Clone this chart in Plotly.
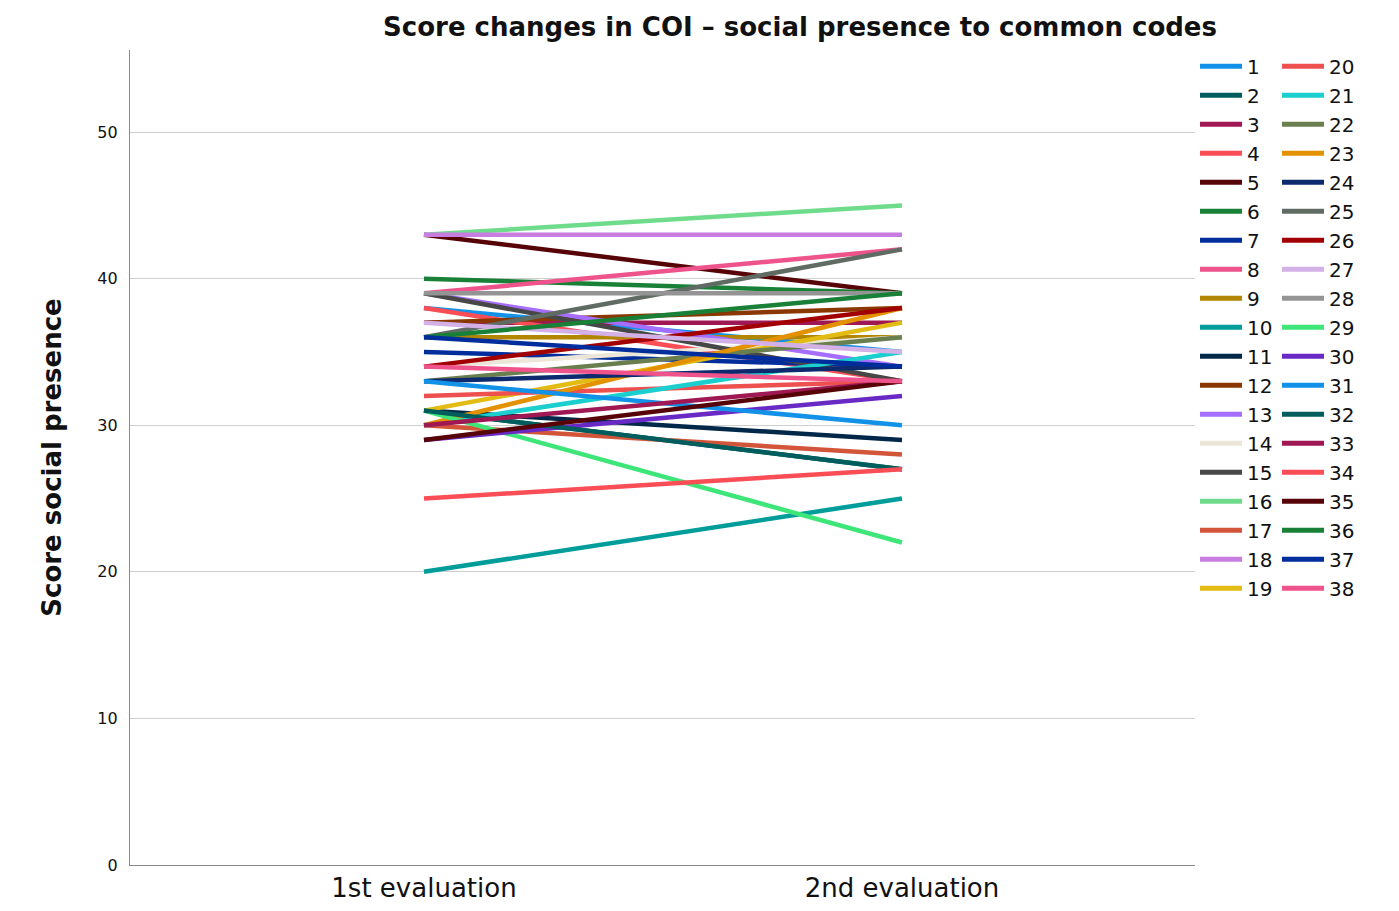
import plotly.graph_objects as go

evaluations = ["1st evaluation", "2nd evaluation"]
participants = [str(i) for i in range(1, 39)]
first_eval = [38, 31, 37, 38, 43, 40, 35, 39, 36, 20,
              31, 37, 39, 34, 39, 43, 30, 43, 31, 32,
              30, 33, 30, 33, 36, 34, 37, 39, 31, 29,
              33, 31, 30, 25, 29, 36, 36, 34]
second_eval = [35, 27, 37, 33, 39, 39, 34, 42, 36, 25,
               29, 38, 34, 36, 33, 45, 28, 43, 37, 33,
               35, 36, 38, 34, 42, 38, 35, 39, 22, 32,
               30, 27, 33, 27, 33, 39, 34, 33]
colors = ["#1192e8", "#005d5d", "#9f1853", "#fa4d56", "#570408", "#198038",
          "#002d9c", "#ee538b", "#b28600", "#009d9a", "#012749", "#8a3800",
          "#a56eff", "#ebe6d7", "#474747", "#6fdc8c", "#d2553a", "#c87de0",
          "#e3bc13", "#ee4f4f", "#1bcfcf", "#6a7f4f", "#e49100", "#0c2a6d",
          "#5f6b63", "#a20000", "#d3b0e6", "#949494", "#3ee67a", "#6929c4"]

fig = go.Figure()
for i, name in enumerate(participants):
    fig.add_trace(go.Scatter(
        x=evaluations, y=[first_eval[i], second_eval[i]], mode="lines", name=name,
        line=dict(color=colors[i % len(colors)], width=4.5),
        legend="legend" if i < 19 else "legend2",
        hoverinfo="name+y"))

legend_common = dict(font=dict(family="DejaVu Sans", size=20, color="#111"),
                     bgcolor="rgba(0,0,0,0)", borderwidth=0, tracegroupgap=0,
                     itemwidth=42, yanchor="top", xanchor="left", y=1.004,
                     itemsizing="constant", maxheight=1.0)

fig.update_layout(
    width=1383, height=895,
    margin=dict(l=122, r=196, t=42, b=38, autoexpand=False),
    paper_bgcolor="white", plot_bgcolor="white",
    font=dict(family="DejaVu Sans", color="#111"),
    title=dict(text="<b>Score changes in COI – social presence to common codes</b>",
               font=dict(size=26, color="#111"), x=0.5727, xanchor="center",
               y=0.989, yanchor="top"),
    xaxis=dict(type="category", range=[-0.615, 1.613], showgrid=False,
               showline=True, linecolor="#888", linewidth=1.2, ticks="",
               tickfont=dict(size=26, color="#111"), zeroline=False,
               automargin=False),
    yaxis=dict(range=[0, 55.6], tickvals=[0, 10, 20, 30, 40, 50],
               showgrid=True, gridcolor="#cfcfcf", gridwidth=1.2,
               showline=True, linecolor="#888", linewidth=1.2, ticks="",
               tickfont=dict(size=16, color="#111"), zeroline=False,
               ticklabelstandoff=8, automargin=False,
               title=dict(text="<b>Score social presence</b>",
                          font=dict(size=26, color="#111"), standoff=28)),
    showlegend=True,
    legend=dict(**legend_common, x=1.0),
    legend2=dict(**legend_common, x=1.077),
)

fig.write_html("out.html")
